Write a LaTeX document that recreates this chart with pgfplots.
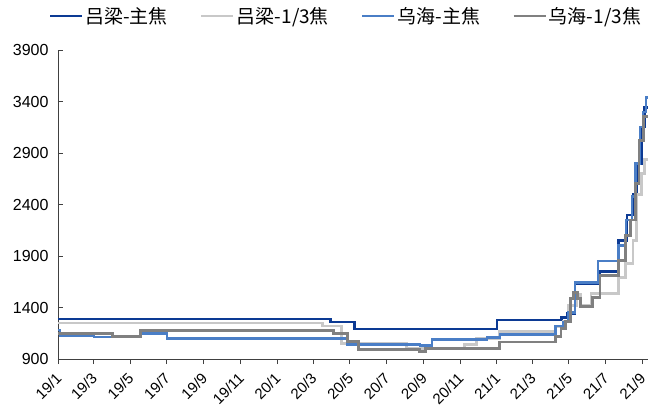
\documentclass[border=0pt]{standalone}
\usepackage{fontspec}
\setmainfont{Liberation Sans}
\newfontfamily\cjk{Noto Sans CJK SC}
\usepackage{pgfplots}
\pgfplotsset{compat=1.18}
\definecolor{dblue}{RGB}{12,58,148}
\definecolor{mblue}{RGB}{74,126,198}
\definecolor{lgray}{RGB}{200,200,200}
\definecolor{dgray}{RGB}{128,128,128}
\begin{document}
\begin{tikzpicture}
\useasboundingbox (-58pt,-48pt) rectangle (590pt,359pt);
\begin{axis}[
 scale only axis, width=590pt, height=309pt,
 xmin=0, xmax=983, ymin=900, ymax=3900,
 axis x line*=bottom, axis y line*=left,
 axis line style={black!75, line width=0.8pt, -},
 ytick={900,1400,...,3900},
 xtick={0,59,120,181,243,304,365,425,486,547,609,670,731,790,851,912,973},
 xticklabels={19/1,19/3,19/5,19/7,19/9,19/11,20/1,20/3,20/5,20/7,20/9,20/11,21/1,21/3,21/5,21/7,21/9},
 /pgf/number format/assume math mode=true,
 x tick label style={rotate=45, anchor=north east, xshift=-4.5pt, font=\fontsize{15}{18}\selectfont},
 y tick label style={xshift=-6pt, font=\fontsize{16}{18}\selectfont, /pgf/number format/1000 sep={}},
 xtick align=outside, ytick align=inside,
 major tick length=5pt,
 tick style={black!75, line width=0.8pt},
 legend style={at={(0.5,1)}, anchor=south, yshift=21pt, xshift=-7pt, draw=none, fill=none,
   legend columns=4, font=\cjk\fontsize{19}{21}\selectfont,
   /tikz/every even column/.append style={column sep=30pt}},
 legend image code/.code={\draw[#1] (0pt,0pt) -- (32pt,0pt);},
]
\addplot[const plot, dblue, line width=2.5pt] coordinates {
(0,1290) (454,1260) (494,1190) (731,1280) (839,1305) (848,1340) (861,1630)
(903,1750) (934,2050) (948,2300) (959,2500) (964,2800) (972,3150) (977,3340) (983,3340)};
\addlegendentry{吕梁-主焦}
\addplot[const plot, lgray, line width=2.9pt] coordinates {
(0,1250) (440,1220) (473,1050) (581,1000) (678,1045) (698,1100) (736,1170) (829,1215)
(842,1260) (851,1420) (864,1530) (870,1420) (888,1540) (934,1690) (946,1830) (958,2050)
(964,2500) (972,2700) (977,2840) (983,2840)};
\addlegendentry{吕梁-1/3焦}
\addplot[const plot, mblue, line width=2.5pt] coordinates {
(0,1180) (3,1130) (60,1115) (138,1150) (182,1100) (482,1040) (603,1030) (623,1090)
(715,1110) (736,1140) (829,1220) (842,1260) (850,1350) (861,1645) (900,1850) (934,2000)
(946,2250) (956,2480) (962,2800) (970,3150) (975,3300) (980,3437) (983,3437)};
\addlegendentry{乌海-主焦}
\addplot[const plot, dgray, line width=2.9pt] coordinates {
(0,1150) (91,1120) (138,1180) (459,1150) (482,1070) (500,990) (603,975) (612,1000)
(736,1065) (829,1115) (838,1195) (846,1260) (854,1490) (859,1550) (866,1490) (871,1410)
(891,1500) (903,1710) (934,1860) (946,2100) (954,2250) (962,2600) (968,3020) (976,3250) (983,3250)};
\addlegendentry{乌海-1/3焦}
\end{axis}
\end{tikzpicture}
\end{document}
